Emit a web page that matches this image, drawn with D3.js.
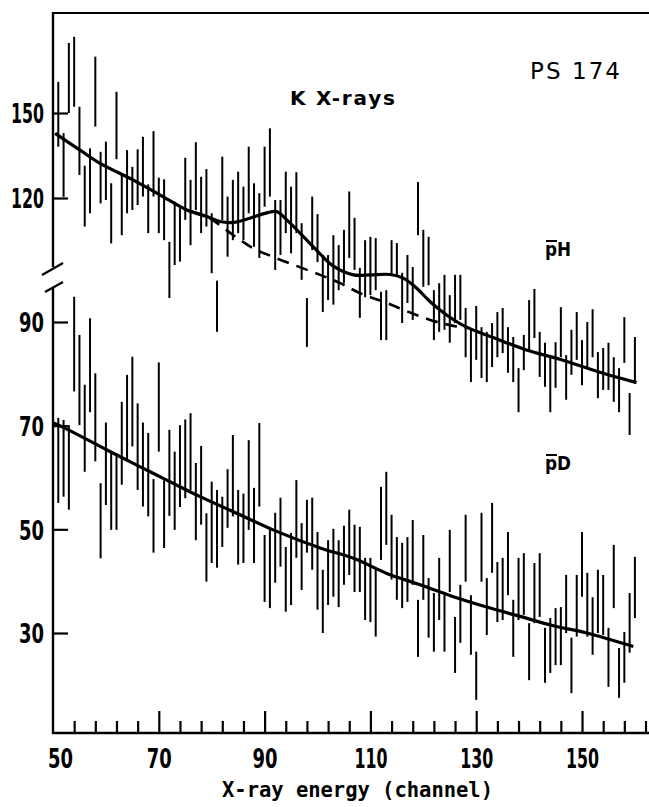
<!DOCTYPE html>
<html><head><meta charset="utf-8">
<script src="https://cdn.jsdelivr.net/npm/d3@7"></script>
<style>body{margin:0;background:#fff}</style>
</head><body>
<svg id="chart" width="649" height="807"></svg>
<script>
// ---------- data ----------
const channels = d3.range(51, 161);
const phHigh = [161.0,142.9,174.7,176.9,152.2,131.4,137.5,169.9,136.3,139.9,
125.2,157.5,128.7,136.9,131.0,137.2,141.6,124.8,143.6,127.2,
126.6,109.4,119.1,117.9,134.2,126.4,139.7,127.5,130.2,116.3,
100.0,134.6,120.5,126.4,129.3,124.0,138.1,125.2,121.7,138.1,
144.6,119.5,119.5,129.3,124.0,129.1,113.9,95.8,120.5,116.1,
106.2,106.2,111.0,108.6,112.3,122.3,115.2,103.1,109.8,110.6,
110.3,97.3,97.7,109.8,109.1,101.9,106.2,103.3,125.6,112.3,
110.6,97.7,99.4,101.4,96.5,101.4,101.4,93.4,88.8,93.9,
89.0,88.1,89.8,92.4,93.4,89.0,87.1,81.1,87.5,95.3,
98.0,88.1,86.0,83.1,86.1,93.6,83.6,88.5,92.4,86.5,
90.0,93.1,84.2,85.0,86.0,83.2,81.1,91.2,76.3,87.1];
const phLow = [138.1,120.4,150.0,152.2,128.1,113.1,116.3,145.2,118.7,119.5,
109.0,133.7,111.0,116.3,117.1,118.3,120.5,111.5,120.5,111.5,
109.8,95.8,103.8,104.6,114.7,108.6,117.1,111.5,113.1,101.8,
88.1,114.7,105.8,109.8,111.5,109.8,116.3,108.2,105.5,117.9,
120.5,102.6,106.2,111.5,106.6,111.5,100.2,85.2,107.4,104.5,
92.4,95.3,94.2,97.7,99.4,105.5,102.6,91.0,96.0,96.5,
97.7,86.5,86.5,101.4,100.9,89.8,94.6,90.5,111.0,98.5,
98.9,86.5,88.1,88.5,86.0,89.8,90.5,83.2,78.4,82.7,
79.2,78.4,81.3,83.2,84.0,80.2,78.4,72.6,80.7,84.6,
86.9,79.4,77.5,72.6,77.3,83.2,75.0,79.8,82.7,77.8,
81.3,83.2,75.3,76.9,76.9,74.6,72.6,82.1,68.2,78.2];
const pdHigh = [71.5,71.1,70.1,96.1,87.5,77.9,90.9,80.1,58.9,70.6,
64.7,64.7,74.6,79.8,83.3,74.3,70.6,68.6,59.7,82.2,
59.5,69.2,65.0,70.1,71.2,72.4,62.8,66.1,53.1,59.2,
57.6,56.3,61.6,68.2,57.6,56.9,67.2,58.0,70.5,48.9,
49.9,53.2,56.1,46.6,49.3,59.5,51.2,55.7,56.1,49.5,
42.2,47.9,50.1,47.9,50.7,53.8,50.9,50.5,44.5,44.5,
42.6,58.2,61.1,52.8,48.5,47.4,48.5,51.8,36.4,48.9,
40.6,37.7,44.5,37.7,49.9,33.1,39.3,52.8,37.3,26.4,
53.2,40.6,55.1,43.7,44.5,49.5,36.4,44.5,45.4,31.9,
43.5,45.4,31.0,32.9,34.8,35.0,41.2,29.1,41.2,49.5,
41.6,36.9,42.2,41.2,31.0,47.0,27.1,30.2,37.7,44.7];
const pdLow = [55.1,56.3,53.8,76.6,70.1,61.1,72.6,63.1,44.4,54.7,
49.9,49.9,58.6,63.4,66.0,57.6,54.4,52.5,45.5,65.0,
46.4,52.6,49.9,54.3,56.0,57.6,47.9,50.9,39.9,43.5,
42.6,46.6,50.3,52.5,43.2,43.5,49.9,43.5,54.4,36.0,
34.8,39.7,42.8,34.1,35.4,44.5,38.3,45.5,42.2,34.5,
30.0,35.4,37.0,35.0,39.3,41.2,37.9,37.9,32.5,32.1,
29.3,44.1,47.0,40.3,36.4,34.8,36.0,39.3,25.4,36.4,
29.1,26.4,32.5,26.4,37.9,22.3,28.1,39.9,25.8,17.1,
39.9,29.6,41.6,32.1,32.5,37.3,25.4,32.5,33.5,20.9,
31.9,33.1,20.4,22.3,23.8,23.8,30.0,18.4,29.3,37.0,
29.3,25.8,30.0,29.6,19.6,34.8,17.5,20.4,26.2,32.9];
// fitted curves
const phFitX = [50.4,55.1,58.9,65.2,70.2,75.3,79.1,81.6,84.1,87.2,90.4,92.3,94.2,96.7,99.8,103.0,106.8,109.9,113.7,116.2,118.8,121.3,124.4,128.2,133.2,139.5,145.8,154.0,160.3];
const phFitY = [142.8,136.9,132.2,126.3,121.1,117.1,115.5,114.3,114.1,115.1,116.4,116.7,114.7,111.5,107.4,103.5,101.4,101.4,101.5,100.6,98.1,94.9,91.7,89.0,87.0,84.6,82.8,80.1,78.3];
const phBgX = [76.0,79.1,84.1,87.9,92.3,100.5,104.3,108.0,113.1,116.9,121.3,125.0,128.2];
const phBgY = [116.8,115.5,111.0,107.8,105.4,101.4,99.4,97.0,94.6,92.6,90.5,89.4,88.8];
const pdFitX = [50.1,52.9,60.2,66.4,71.5,77.8,84.1,91.6,100.5,106.8,113.1,119.4,125.7,132.0,138.3,144.6,150.9,159.7];
const pdFitY = [70.5,69.2,65.3,62.1,59.5,56.3,53.4,49.9,46.4,44.4,41.5,39.3,37.0,35.0,33.2,31.4,30.0,27.4];
// axes
const xMinorTicks = [54,58,62,66,74,78,82,86,94,98,102,106,114,118,122,126,134,138,142,146,154,158,162];
const xMajorTicks = [70,90,110,130,150];
const yTicksUpper = [150,120];
const yTicksLower = [90,70,50,30];

// ---------- scales ----------
const svg = d3.select('#chart');
const x = d3.scaleLinear().domain([50,162]).range([53,645.5]);
const y = d3.scaleLinear().domain([30,90,120,150]).range([633,322,198,113]);

const numFont = '"DejaVu Sans","Liberation Sans",sans-serif';
const fitWidth = s => String(s).length === 3 ? 33 : 25;

// frame: top line
svg.append('line').attr('x1',53).attr('x2',649).attr('y1',13).attr('y2',13)
  .attr('stroke','#000').attr('stroke-width',2.2);
// bottom axis line
svg.append('line').attr('x1',52).attr('x2',649).attr('y1',733).attr('y2',733)
  .attr('stroke','#000').attr('stroke-width',2.6);
// left axis, with break
svg.append('line').attr('x1',53).attr('x2',53).attr('y1',12).attr('y2',267)
  .attr('stroke','#000').attr('stroke-width',2.4);
svg.append('line').attr('x1',53).attr('x2',53).attr('y1',287).attr('y2',734)
  .attr('stroke','#000').attr('stroke-width',2.4);
svg.append('line').attr('x1',42).attr('x2',63).attr('y1',275).attr('y2',263)
  .attr('stroke','#000').attr('stroke-width',2.2);
svg.append('line').attr('x1',45).attr('x2',63).attr('y1',292).attr('y2',282)
  .attr('stroke','#000').attr('stroke-width',2.2);

// x axis ticks
const gx = svg.append('g').attr('transform','translate(0,733)');
gx.call(d3.axisBottom(x).tickValues(xMinorTicks).tickSizeInner(-12).tickSizeOuter(0).tickFormat(''));
gx.call(g=>g.select('.domain').remove());
gx.selectAll('.tick line').attr('stroke-width',2.2);
const gx2 = svg.append('g').attr('transform','translate(0,733)');
gx2.call(d3.axisBottom(x).tickValues([50].concat(xMajorTicks)).tickSizeInner(-22).tickSizeOuter(0).tickPadding(35).tickFormat(d3.format('d')));
gx2.call(g=>g.select('.domain').remove());
gx2.selectAll('.tick line').attr('stroke-width',2.2).filter(d=>d===50).remove();
gx2.selectAll('.tick text').attr('font-family',numFont).attr('font-weight','bold')
  .attr('font-size',27).attr('fill','#000').attr('dy',0)
  .attr('dx',d=>d===50?7:0)
  .attr('textLength',d=>fitWidth(d)).attr('lengthAdjust','spacingAndGlyphs');

// y axis ticks
const gy = svg.append('g').attr('transform','translate(53,0)');
gy.call(d3.axisLeft(y).tickValues(yTicksUpper.concat(yTicksLower)).tickSizeInner(-15).tickSizeOuter(0).tickPadding(9).tickFormat(d3.format('d')));
gy.call(g=>g.select('.domain').remove());
gy.selectAll('.tick line').attr('stroke-width',2.2);
gy.selectAll('.tick text').attr('font-family',numFont).attr('font-weight','bold')
  .attr('font-size',27).attr('fill','#000').attr('dy','0.36em')
  .attr('textLength',d=>fitWidth(d)).attr('lengthAdjust','spacingAndGlyphs');

// error bars
const bars = svg.append('g').attr('stroke','#000').attr('stroke-width',2);
bars.selectAll('line.ph').data(channels).join('line').attr('class','ph')
  .attr('x1',d=>x(d)).attr('x2',d=>x(d))
  .attr('y1',(d,i)=>y(phHigh[i])).attr('y2',(d,i)=>y(phLow[i]));
bars.selectAll('line.pd').data(channels).join('line').attr('class','pd')
  .attr('x1',d=>x(d)).attr('x2',d=>x(d))
  .attr('y1',(d,i)=>y(pdHigh[i])).attr('y2',(d,i)=>y(pdLow[i]));

// curves
const line = d3.line().x(d=>x(d[0])).y(d=>y(d[1])).curve(d3.curveCatmullRom.alpha(0.5));
svg.append('path').datum(phBgX.map((v,i)=>[v,phBgY[i]])).attr('d',line)
  .attr('fill','none').attr('stroke','#000').attr('stroke-width',2.6).attr('stroke-dasharray','12,8');
svg.append('path').datum(phFitX.map((v,i)=>[v,phFitY[i]])).attr('d',line)
  .attr('fill','none').attr('stroke','#000').attr('stroke-width',3.2);
svg.append('path').datum(pdFitX.map((v,i)=>[v,pdFitY[i]])).attr('d',line)
  .attr('fill','none').attr('stroke','#000').attr('stroke-width',3.2);

// labels
const lblFont = '"DejaVu Sans","Liberation Sans",sans-serif';
svg.append('text').attr('x',290).attr('y',105).text('K X-rays')
  .attr('font-family',lblFont).attr('font-weight','bold').attr('font-size',20)
  .attr('textLength',105).attr('lengthAdjust','spacing');
svg.append('text').attr('x',530).attr('y',79).text('PS 174')
  .attr('font-family',lblFont).attr('font-size',23)
  .attr('textLength',90).attr('lengthAdjust','spacing');
function pbar(label, xx, yy){
  svg.append('text').attr('x',xx).attr('y',yy).text(label)
    .attr('font-family',lblFont).attr('font-weight','bold').attr('font-size',19)
    .attr('textLength',26).attr('lengthAdjust','spacingAndGlyphs');
  svg.append('line').attr('x1',xx+1).attr('x2',xx+12).attr('y1',yy-15).attr('y2',yy-15)
    .attr('stroke','#000').attr('stroke-width',2);
}
pbar('pH', 545, 256);
pbar('pD', 545, 470);
svg.append('text').attr('x',222).attr('y',797).text('X-ray energy (channel)')
  .attr('font-family','"DejaVu Sans Mono",monospace').attr('font-weight','bold').attr('font-size',20.5)
  .attr('textLength',271).attr('lengthAdjust','spacing');
</script>
</body></html>
